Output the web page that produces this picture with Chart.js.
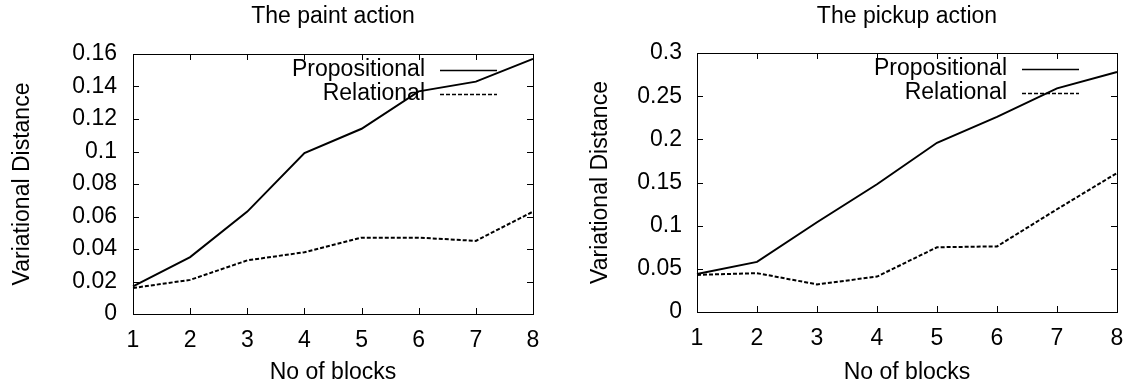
<!DOCTYPE html>
<html>
<head>
<meta charset="utf-8">
<script src="https://cdn.jsdelivr.net/npm/chart.js@4"></script>
<style>
    html, body { margin: 0; padding: 0; background: #fff; }
    #wrap { position: relative; width: 1127px; height: 389px; }
    .box { position: absolute; top: 0; height: 389px; }
</style>
</head>
<body>
<div id="wrap">
    <div class="box" style="left:0;width:560px"><canvas id="paintChart" width="560" height="389"></canvas></div>
    <div class="box" style="left:560px;width:567px"><canvas id="pickupChart" width="567" height="389"></canvas></div>
</div>
<script>
// Data
const blocks = ['1', '2', '3', '4', '5', '6', '7', '8'];
const paintPropositional = [0.017, 0.035, 0.063, 0.099, 0.114, 0.137, 0.143, 0.157];
const paintRelational = [0.016, 0.021, 0.033, 0.038, 0.047, 0.047, 0.045, 0.063];
const pickupPropositional = [0.044, 0.058, 0.104, 0.148, 0.196, 0.226, 0.259, 0.278];
const pickupRelational = [0.043, 0.045, 0.032, 0.041, 0.075, 0.076, 0.119, 0.161];
const seriesNames = ['Propositional', 'Relational'];

const FONT = 'Liberation Sans, Arial, Helvetica, sans-serif';
const FONT_SIZE = 23;
const DASH = [4, 2];

// gnuplot style box with inward ticks on every side, plus the key
function gnuplotPlugin(cfg) {
    return {
        id: 'gnuplotBox',
        beforeDatasetsDraw(chart) {
            const { ctx, chartArea: a, scales } = chart;
            ctx.save();
            ctx.strokeStyle = '#000';
            ctx.lineWidth = 1;
            ctx.strokeRect(a.left + 0.5, a.top + 0.5, a.right - a.left, a.bottom - a.top);
            ctx.beginPath();
            scales.x.ticks.forEach((t, i) => {
                const x = Math.round(scales.x.getPixelForTick(i)) + 0.5;
                ctx.moveTo(x, a.bottom); ctx.lineTo(x, a.bottom - 6);
                ctx.moveTo(x, a.top); ctx.lineTo(x, a.top + 6);
            });
            scales.y.ticks.forEach((t, i) => {
                const y = Math.round(scales.y.getPixelForTick(i)) + 0.5;
                ctx.moveTo(a.left, y); ctx.lineTo(a.left + 6, y);
                ctx.moveTo(a.right, y); ctx.lineTo(a.right - 6, y);
            });
            ctx.stroke();
            ctx.restore();
        },
        afterDraw(chart) {
            const { ctx, chartArea: a } = chart;
            const textRight = a.right - cfg.keyOffset;
            ctx.save();
            ctx.font = FONT_SIZE + 'px ' + FONT;
            ctx.fillStyle = '#000';
            ctx.strokeStyle = '#000';
            ctx.textAlign = 'right';
            ctx.textBaseline = 'middle';
            seriesNames.forEach((name, i) => {
                const y = a.top + 16 + i * 24;
                ctx.fillText(name, textRight, y);
                ctx.lineWidth = 1.5;
                ctx.setLineDash(i === 1 ? DASH : []);
                ctx.beginPath();
                ctx.moveTo(textRight + 15, y + 0.5);
                ctx.lineTo(textRight + 72, y + 0.5);
                ctx.stroke();
            });
            ctx.restore();
        }
    };
}

function makeChart(id, cfg) {
    return new Chart(document.getElementById(id).getContext('2d'), {
        type: 'line',
        data: {
            labels: blocks,
            datasets: [{
                label: seriesNames[0],
                data: cfg.propositional,
                borderColor: '#000',
                borderWidth: 2,
                pointRadius: 0,
                tension: 0
            }, {
                label: seriesNames[1],
                data: cfg.relational,
                borderColor: '#000',
                borderWidth: 2,
                borderDash: DASH,
                pointRadius: 0,
                tension: 0
            }]
        },
        options: {
            responsive: false,
            animation: false,
            layout: { padding: { left: 0, right: cfg.padRight, top: 0, bottom: 0 } },
            plugins: {
                legend: { display: false },
                tooltip: { enabled: false },
                title: {
                    display: true,
                    fullSize: false,
                    text: cfg.title,
                    color: '#000',
                    font: { family: FONT, size: FONT_SIZE, weight: 'normal' },
                    padding: { top: 3, bottom: cfg.titleBottom }
                }
            },
            scales: {
                x: {
                    grid: { display: false, drawTicks: false },
                    border: { display: false },
                    ticks: {
                        color: '#000',
                        padding: 13,
                        maxRotation: 0,
                        font: { family: FONT, size: FONT_SIZE }
                    },
                    title: {
                        display: true,
                        text: 'No of blocks',
                        color: '#000',
                        font: { family: FONT, size: FONT_SIZE },
                        padding: { top: 0, bottom: 3 }
                    },
                    afterFit(scale) {
                        scale.height = cfg.xHeight;
                        scale.paddingLeft = 0;
                        scale.paddingRight = 0;
                    }
                },
                y: {
                    min: 0,
                    max: cfg.yMax,
                    grid: { display: false, drawTicks: false },
                    border: { display: false },
                    ticks: {
                        stepSize: cfg.yStep,
                        color: '#000',
                        padding: cfg.tickPad,
                        font: { family: FONT, size: FONT_SIZE },
                        callback: v => String(+v.toFixed(2))
                    },
                    title: {
                        display: true,
                        text: 'Variational Distance',
                        color: '#000',
                        font: { family: FONT, size: FONT_SIZE },
                        padding: { top: cfg.yTitlePad, bottom: 0 }
                    },
                    afterFit(scale) {
                        scale.width = cfg.yWidth;
                        scale.paddingTop = 0;
                        scale.paddingBottom = 0;
                    }
                }
            }
        },
        plugins: [gnuplotPlugin(cfg)]
    });
}

const paintChart = makeChart('paintChart', {
    title: 'The paint action',
    propositional: paintPropositional,
    relational: paintRelational,
    yMax: 0.16, yStep: 0.02,
    yWidth: 133, yTitlePad: 9, tickPad: 16,
    padRight: 27, titleBottom: 23.4, xHeight: 75,
    keyOffset: 108
});

const pickupChart = makeChart('pickupChart', {
    title: 'The pickup action',
    propositional: pickupPropositional,
    relational: pickupRelational,
    yMax: 0.3, yStep: 0.05,
    yWidth: 137, yTitlePad: 27, tickPad: 15,
    padRight: 10, titleBottom: 22.4, xHeight: 77,
    keyOffset: 110
});
</script>
</body>
</html>
